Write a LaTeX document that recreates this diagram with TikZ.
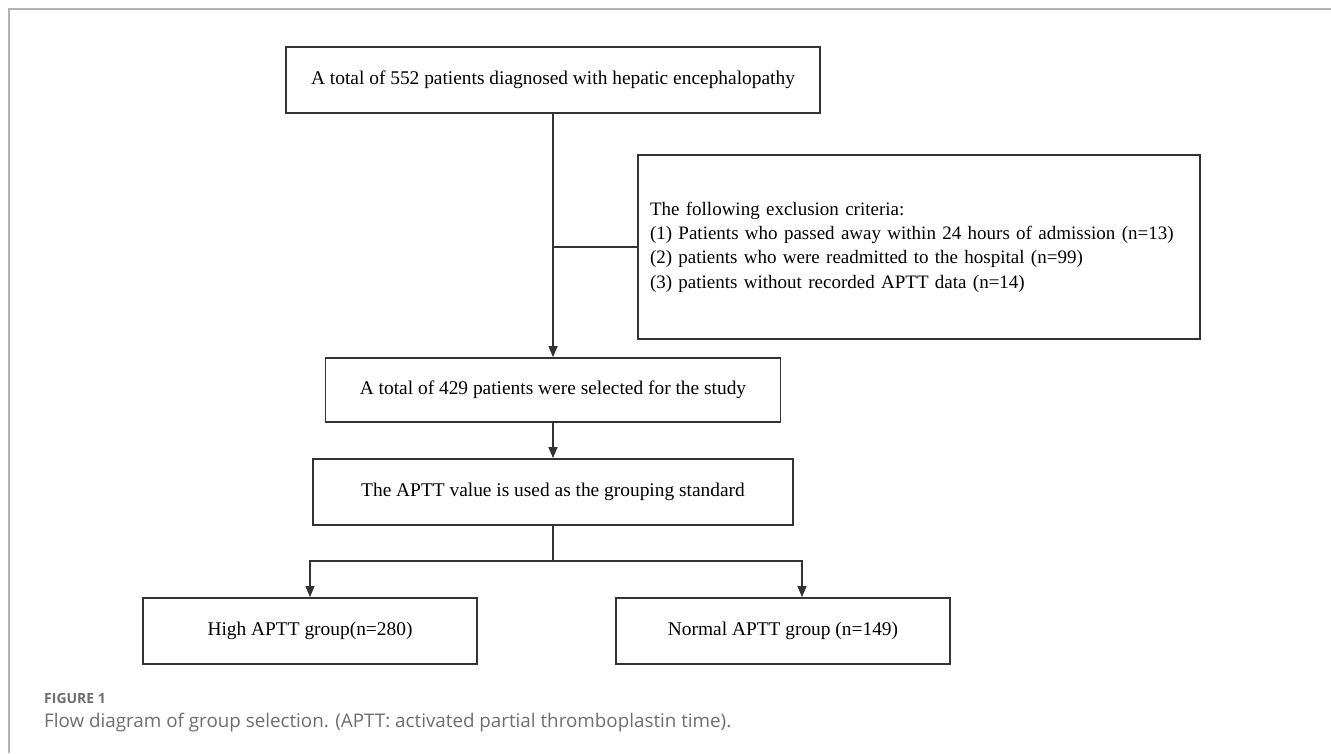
\documentclass[tikz,border=0pt]{standalone}
\usepackage{fontspec}
\setmainfont{Liberation Serif}
\newfontfamily\captionfont{Open Sans}
\usetikzlibrary{arrows.meta}
\definecolor{boxline}{HTML}{333333}
\definecolor{framegray}{HTML}{B3B3B3}
\definecolor{capgray}{HTML}{6D6E71}
\tikzset{
  flowbox/.style={draw=boxline, line width=1.8pt, inner sep=0pt, fill=white,
    font=\fontsize{19.4}{24.4}\selectfont},
  flowline/.style={draw=boxline, line width=1.5pt},
  flowarrow/.style={flowline, -{Triangle[length=11pt,width=9pt]}},
}
\begin{document}
\begin{tikzpicture}[x=1pt,y=-1pt]
\useasboundingbox (0,0) rectangle (1331,753);
\draw[framegray, line width=1.5pt] (9,753) -- (9,9) -- (1331,9);
% boxes
\node[flowbox, minimum width=534pt, minimum height=66pt] (total) at (553,80)
  {A total of 552 patients diagnosed with hepatic encephalopathy};
\node[flowbox, minimum width=562pt, minimum height=184pt, text width=538pt,
  inner xsep=12pt, align=left, font=\fontsize{19}{24.4}\selectfont] (excl) at (919,247)
  {The following exclusion criteria:\\
   (1) Patients who passed away within 24 hours of admission (n=13)\\
   (2) patients who were readmitted to the hospital (n=99)\\
   (3) patients without recorded APTT data (n=14)};
\node[flowbox, minimum width=455pt, minimum height=64pt] (selected) at (553,390)
  {A total of 429 patients were selected for the study};
\node[flowbox, minimum width=480pt, minimum height=66pt] (standard) at (553,492)
  {The APTT value is used as the grouping standard};
\node[flowbox, minimum width=334pt, minimum height=66pt] (high) at (310,631)
  {High APTT group(n=280)};
\node[flowbox, minimum width=334pt, minimum height=66pt] (normal) at (783,631)
  {Normal APTT group (n=149)};
% connectors
\coordinate (split) at (total.south |- excl.west);
\coordinate (fork) at (553,561);
\coordinate (normalin) at ([xshift=19pt]normal.north);
\draw[flowarrow] (total.south) -- (selected.north);
\draw[flowline] (split) -- (excl.west);
\draw[flowarrow] (selected.south) -- (standard.north);
\draw[flowline] (standard.south) -- (fork);
\draw[flowarrow] (fork) -| (high.north);
\draw[flowarrow] (fork) -| (normalin);
% caption
\node[anchor=base west, inner sep=0pt, text=capgray,
  font=\captionfont\bfseries\fontsize{14}{16}\selectfont] (figlabel) at (44,703) {FIGURE 1};
\node[anchor=base west, inner sep=0pt, text=capgray,
  font=\captionfont\fontsize{18.8}{21}\selectfont] (caption) at (44,727)
  {Flow diagram of group selection. (APTT: activated partial thromboplastin time).};
\end{tikzpicture}
\end{document}
